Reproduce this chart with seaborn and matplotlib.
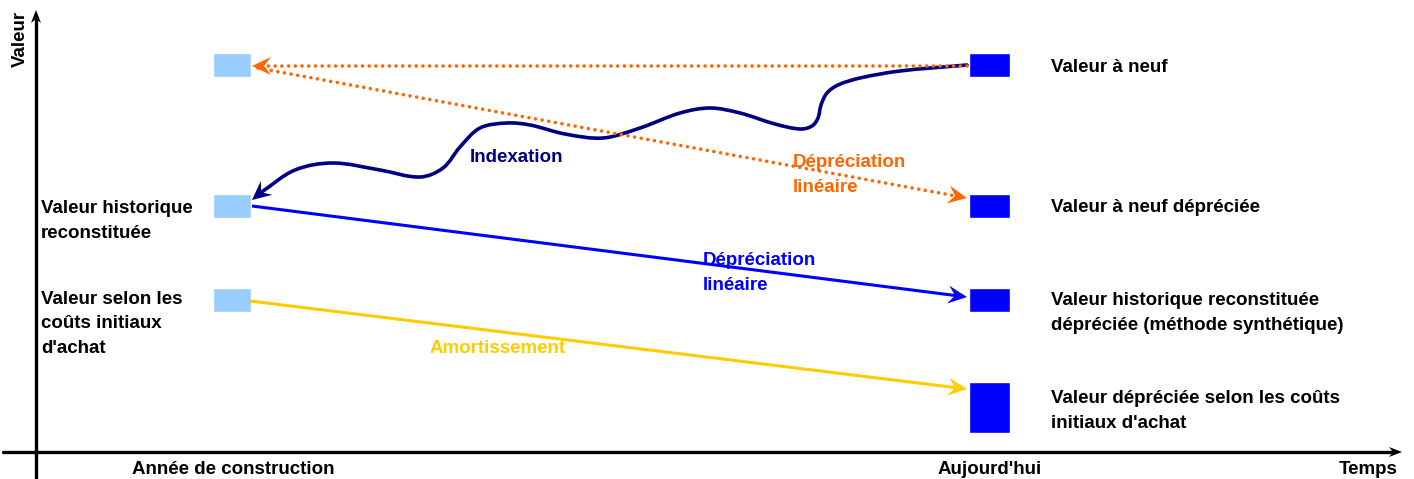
import matplotlib.pyplot as plt
import numpy as np
import seaborn as sns
from matplotlib.patches import PathPatch
from matplotlib.path import Path

# diagram coordinates: x = time axis, y = value axis (pixel-like units, y grows downward)
STAGE_LABELS = ["Année de construction", "Aujourd'hui"]
STAGE_X = [233, 990]
TIME_LABEL = "Temps"
VALUE_LABEL = "Valeur"

PAST_LEVELS = [65, 206, 300]
PAST_LABELS = ["", "Valeur historique\nreconstituée", "Valeur selon les\ncoûts initiaux\nd'achat"]
PAST_LABEL_Y = [0, 207, 298]

TODAY_LEVELS = [65, 206, 300, 407.5]
TODAY_HEIGHTS = [24, 24, 24, 51]
TODAY_LABELS = [
    "Valeur à neuf",
    "Valeur à neuf dépréciée",
    "Valeur historique reconstituée\ndépréciée (méthode synthétique)",
    "Valeur dépréciée selon les coûts\ninitiaux d'achat",
]
TODAY_LABEL_Y = [66, 206, 299, 397]

# indexation path (points it passes through), from today's new value back to the construction year
INDEX_X = [967, 900, 860, 838, 827, 821, 818, 812, 800, 775, 740, 710, 680, 640, 603,
           565, 530, 507, 480, 460, 443, 420, 380, 333, 295, 252]
INDEX_Y = [65, 71, 78, 85, 93, 105, 118, 126, 129, 124, 113, 108, 113, 128, 138,
           134, 125, 123, 128, 147, 168, 177, 170, 163, 170, 200]

# straight links: (start, end)
NEW_BACK = [(967, 66), (252, 66)]
NEW_DEPR = [(258, 68), (967, 198)]
HIST_DEPR = [(252, 206), (967, 297)]
COST_DEPR = [(250, 301), (967, 389)]

LINK_TEXT = ["Indexation", "Dépréciation\nlinéaire", "Dépréciation\nlinéaire", "Amortissement"]
LINK_TEXT_XY = [(470, 156), (793, 161), (703, 259), (430, 347)]

NAVY = "#000080"
BLUE = "#0000FF"
LIGHT = "#99CCFF"
ORANGE = "#FF6600"
YELLOW = "#FFCC00"
FS = 13.5
LINE_STEP = 24.5
TXT_SHIFT = 1.5


def stealth(ax, tip, prev, color, length=19, half=9, notch=7, z=5):
    tip = np.asarray(tip, float)
    prev = np.asarray(prev, float)
    u = (tip - prev) / np.linalg.norm(tip - prev)
    n = np.array([-u[1], u[0]])
    base = tip - u * length
    pts = np.array([tip, base + n * half, tip - u * (length - notch), base - n * half])
    ax.fill(pts[:, 0], pts[:, 1], color=color, lw=0, zorder=z)
    return tuple(tip - u * (length - notch))


def link(ax, start, end, color, dotted=False, lw=2.2):
    stop = stealth(ax, end, start, color)
    kw = dict(color=color, sort=False, estimator=None, ax=ax, zorder=4 if dotted else 3)
    if dotted:
        kw.update(lw=2.6, linestyle=(0, (0.01, 1.85)), dash_capstyle="round")
    else:
        kw.update(lw=lw, solid_capstyle="butt")
    sns.lineplot(x=[start[0], stop[0]], y=[start[1], stop[1]], **kw)


def smooth_path(xs, ys):
    # smooth curve through the points, handed to matplotlib as cubic Bezier segments
    p = np.column_stack([xs, ys]).astype(float)
    nxt = np.vstack([p[1:], p[-1]])
    prv = np.vstack([p[0], p[:-1]])
    tan = nxt - prv
    tan /= np.linalg.norm(tan, axis=1)[:, None]
    verts = [p[0]]
    codes = [Path.MOVETO]
    for i in range(len(p) - 1):
        seg = np.linalg.norm(p[i + 1] - p[i]) / 3
        verts += [p[i] + tan[i] * seg, p[i + 1] - tan[i + 1] * seg, p[i + 1]]
        codes += [Path.CURVE4] * 3
    return Path(verts, codes)


def multiline(ax, x, y, text, color="black", ha="left", z=6):
    for i, line in enumerate(text.split("\n")):
        ax.text(x, y + TXT_SHIFT + i * LINE_STEP, line, color=color, ha=ha, va="center",
                fontsize=FS, fontweight="bold", zorder=z)


def main() -> None:
    sns.set_theme(style="white")
    plt.rcParams["font.family"] = ["Liberation Sans", "DejaVu Sans"]
    plt.rcParams["text.color"] = "black"

    fig = plt.figure(figsize=(14.14, 4.79), dpi=100)
    ax = fig.add_axes([0, 0, 1, 1])

    # axes of the diagram
    sns.lineplot(x=[3, 1392], y=[452, 452], color="black", lw=2.4, ax=ax, sort=False, estimator=None)
    sns.lineplot(x=[36, 36], y=[479, 20], color="black", lw=2.4, ax=ax, sort=False, estimator=None)
    stealth(ax, (1402, 452), (3, 452), "black", length=13, half=5, notch=4)
    stealth(ax, (36, 10), (36, 479), "black", length=13, half=5, notch=4)

    ax.text(20, 39, VALUE_LABEL, rotation=90, ha="center", va="center", fontsize=FS, fontweight="bold")
    for x, lab in zip(STAGE_X, STAGE_LABELS):
        multiline(ax, x, 468, lab, ha="center")
    multiline(ax, 1368, 468, TIME_LABEL, ha="center")

    # value boxes
    ax.bar([232] * len(PAST_LEVELS), [24] * len(PAST_LEVELS), width=38,
           bottom=[v - 12 for v in PAST_LEVELS], color=LIGHT, zorder=2)
    ax.bar([989.5] * len(TODAY_LEVELS), TODAY_HEIGHTS, width=41,
           bottom=[v - h / 2 for v, h in zip(TODAY_LEVELS, TODAY_HEIGHTS)], color=BLUE, zorder=2)

    for y, lab in zip(PAST_LABEL_Y, PAST_LABELS):
        if lab:
            multiline(ax, 41, y, lab)
    for y, lab in zip(TODAY_LABEL_Y, TODAY_LABELS):
        multiline(ax, 1051, y, lab)

    # links
    link(ax, *NEW_BACK, ORANGE, dotted=True)
    link(ax, *NEW_DEPR, ORANGE, dotted=True)
    link(ax, *HIST_DEPR, BLUE)
    link(ax, *COST_DEPR, YELLOW)

    stop = stealth(ax, (INDEX_X[-1], INDEX_Y[-1]), (INDEX_X[-1] + 18, INDEX_Y[-1] - 15), NAVY)
    xs = INDEX_X[:-1] + [stop[0]]
    ys = INDEX_Y[:-1] + [stop[1]]
    ax.add_patch(PathPatch(smooth_path(xs, ys), fill=False, edgecolor=NAVY, lw=2.6,
                           capstyle="round", joinstyle="round", zorder=3))

    for text, (x, y), col in zip(LINK_TEXT, LINK_TEXT_XY, [NAVY, ORANGE, BLUE, YELLOW]):
        multiline(ax, x, y, text, color=col, z=2.5)

    ax.set_xlim(0, 1414)
    ax.set_ylim(479, 0)
    ax.set_axis_off()
    fig.savefig("out.png", dpi=100)
    plt.close(fig)


if __name__ == "__main__":
    main()
